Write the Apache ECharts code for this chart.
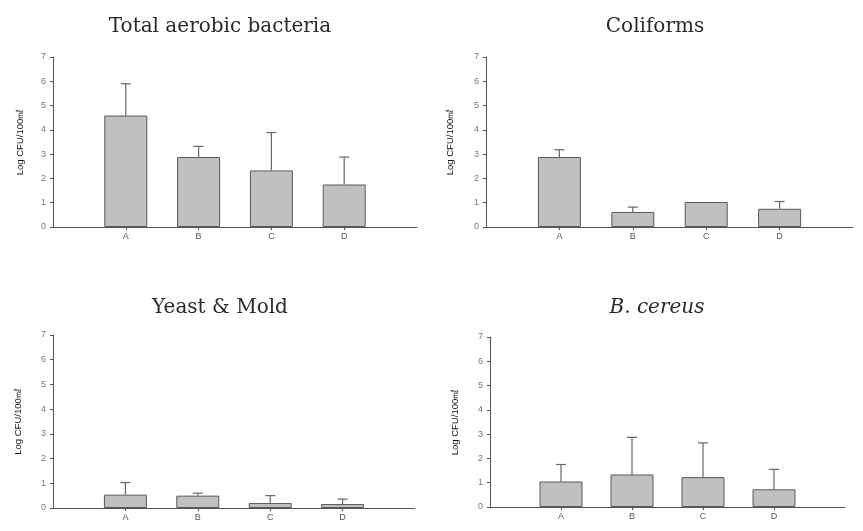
<!DOCTYPE html>
<html>
<head>
<meta charset="utf-8">
<script src="https://cdn.jsdelivr.net/npm/echarts@6/dist/echarts.min.js"></script>
<style>html,body{margin:0;padding:0;background:#fff}#c{width:863px;height:531px}</style>
</head>
<body>
<div id="c"></div>
<script>
// ---- data ----
const categories = ['', 'A', 'B', 'C', 'D', ''];
const titles = ['Total aerobic bacteria', 'Coliforms', 'Yeast & Mold', 'B. cereus'];
const yTicks = [0, 1, 2, 3, 4, 5, 6, 7];
const yAxisName = 'Log CFU/100㎖';

const totalAerobicMean = [4.59, 2.88, 2.33, 1.75];
const totalAerobicErr  = [1.31, 0.44, 1.56, 1.13];
const coliformsMean    = [2.88, 0.62, 1.03, 0.75];
const coliformsErr     = [0.30, 0.20, 0.00, 0.30];
const yeastMoldMean    = [0.54, 0.50, 0.20, 0.16];
const yeastMoldErr     = [0.49, 0.10, 0.30, 0.20];
const bCereusMean      = [1.05, 1.34, 1.23, 0.73];
const bCereusErr       = [0.70, 1.53, 1.41, 0.82];

const panelMeans = [totalAerobicMean, coliformsMean, yeastMoldMean, bCereusMean];
const panelErrs  = [totalAerobicErr, coliformsErr, yeastMoldErr, bCereusErr];

// ---- layout ----
const grids = [
  {left: 53,  right: 446, top: 57,  bottom: 304},
  {left: 486, right: 10,  top: 57,  bottom: 304},
  {left: 53,  right: 448, top: 335, bottom: 23},
  {left: 490, right: 18,  top: 337, bottom: 24}
];
const titlePos = [
  {x: 215, y: 12, italic: false},
  {x: 650, y: 12, italic: false},
  {x: 215, y: 293, italic: false},
  {x: 652, y: 293, italic: true}
];
const nameGaps = [28, 31, 30, 30];

const axisColor = '#555';
const option = {
  animation: false,
  backgroundColor: '#fff',
  title: titles.map((t, i) => ({
    text: t,
    left: titlePos[i].x,
    top: titlePos[i].y,
    textAlign: 'center',
    textStyle: {
      fontFamily: 'DejaVu Serif',
      fontSize: 20,
      fontWeight: 'normal',
      fontStyle: titlePos[i].italic ? 'italic' : 'normal',
      color: '#2a2a2a'
    }
  })),
  grid: grids,
  xAxis: grids.map((g, i) => ({
    type: 'category',
    gridIndex: i,
    data: categories,
    boundaryGap: false,
    axisLine: {lineStyle: {color: axisColor, width: 1}},
    axisTick: {
      show: true, length: 3, inside: false,
      interval: (idx, val) => val !== '',
      lineStyle: {color: axisColor}
    },
    axisLabel: {
      interval: 0,
      fontSize: 9,
      color: '#555',
      fontFamily: 'Liberation Sans',
      margin: 5
    },
    splitLine: {show: false}
  })),
  yAxis: grids.map((g, i) => ({
    type: 'value',
    gridIndex: i,
    min: yTicks[0],
    max: yTicks[yTicks.length - 1],
    interval: 1,
    name: yAxisName,
    nameLocation: 'middle',
    nameGap: nameGaps[i],
    nameRotate: 90,
    nameTextStyle: {fontSize: 9.5, color: '#111', fontFamily: 'Liberation Sans'},
    axisLine: {show: true, lineStyle: {color: axisColor, width: 1}},
    axisTick: {show: true, length: 3, lineStyle: {color: axisColor}},
    axisLabel: {fontSize: 9, color: '#777', fontFamily: 'Liberation Sans', margin: 7},
    splitLine: {show: false}
  })),
  series: []
};

panelMeans.forEach((means, i) => {
  const barData = categories.map((c, k) => (c === '' ? '-' : means[k - 1]));
  option.series.push({
    type: 'bar',
    xAxisIndex: i,
    yAxisIndex: i,
    data: barData,
    barWidth: 43,
    itemStyle: {color: '#c0c0c0', borderColor: '#5a5a5a', borderWidth: 1},
    z: 2
  });
  const errData = means.map((m, k) => [k + 1, m, m + panelErrs[i][k]]);
  option.series.push({
    type: 'custom',
    xAxisIndex: i,
    yAxisIndex: i,
    data: errData,
    z: 3,
    renderItem: (params, api) => {
      const x = api.value(0);
      const lo = api.coord([x, api.value(1)]);
      const hi = api.coord([x, api.value(2)]);
      if (Math.abs(lo[1] - hi[1]) < 0.5) return null;
      const cap = 5;
      const style = {stroke: '#666', lineWidth: 1.2};
      return {
        type: 'group',
        children: [
          {type: 'line', shape: {x1: lo[0], y1: lo[1], x2: hi[0], y2: hi[1]}, style},
          {type: 'line', shape: {x1: hi[0] - cap, y1: hi[1], x2: hi[0] + cap, y2: hi[1]}, style}
        ]
      };
    }
  });
});

const chart = echarts.init(document.getElementById('c'), null, {renderer: 'canvas'});
chart.setOption(option);
</script>
</body>
</html>
